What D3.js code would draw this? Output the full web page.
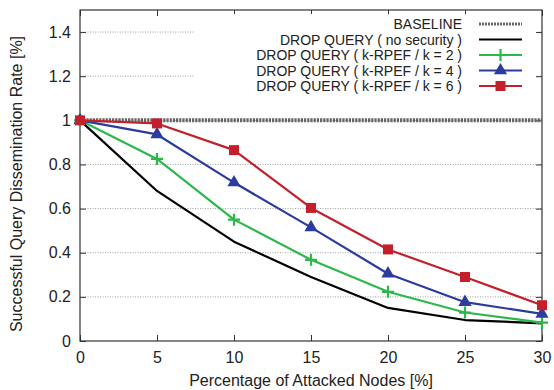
<!DOCTYPE html>
<html>
<head>
<meta charset="utf-8">
<script src="https://cdn.jsdelivr.net/npm/d3@7"></script>
<style>
  body { margin: 0; background: #fff; }
  text { font-family: "Liberation Sans", Arial, sans-serif; fill: #222; }
</style>
</head>
<body>
<svg id="chart" width="554" height="390"></svg>
<script>
// attacked nodes in %
const xVals = [0, 5, 10, 15, 20, 25, 30];
const noSecurity = [1.0, 0.68, 0.45, 0.29, 0.15, 0.095, 0.08];
const rpefK2 = [1.0, 0.825, 0.55, 0.368, 0.223, 0.129, 0.083];
const rpefK4 = [1.0, 0.936, 0.718, 0.515, 0.305, 0.176, 0.123];
const rpefK6 = [1.0, 0.986, 0.865, 0.603, 0.415, 0.29, 0.162];
const baseline = 1.0;
const xTicks = [0, 5, 10, 15, 20, 25, 30];
const yTicks = [0, 0.2, 0.4, 0.6, 0.8, 1, 1.2, 1.4];

const series = [
    { name: "DROP QUERY ( no security )", vals: noSecurity, color: "#000000", marker: null },
    { name: "DROP QUERY ( k-RPEF / k = 2 )", vals: rpefK2, color: "#2cb84a", marker: "plus" },
    { name: "DROP QUERY ( k-RPEF / k = 4 )", vals: rpefK4, color: "#2b3c9e", marker: "tri" },
    { name: "DROP QUERY ( k-RPEF / k = 6 )", vals: rpefK6, color: "#c4202c", marker: "sq" }
];

const svg = d3.select("#chart");
const pLeft = 80, pRight = 542, pTop = 10, pBottom = 341;

const x = d3.scaleLinear().domain([0, 30]).range([pLeft, pRight]);
const y = d3.scaleLinear().domain([0, 1.5]).range([pBottom, pTop]);

// grid lines
const grid = svg.append("g");
yTicks.filter(d => d > 0).forEach(t => {
    grid.append("line")
        .attr("x1", pLeft).attr("x2", pRight)
        .attr("y1", y(t)).attr("y2", y(t))
        .attr("stroke", "#888").attr("stroke-width", 0.8)
        .attr("stroke-dasharray", "1,1.5");
});

// frame
svg.append("rect")
    .attr("x", pLeft).attr("y", pTop)
    .attr("width", pRight - pLeft).attr("height", pBottom - pTop)
    .attr("fill", "none").attr("stroke", "#333").attr("stroke-width", 1.2);

// axes
const xAxis = svg.append("g")
    .attr("transform", `translate(0,${pBottom})`)
    .call(d3.axisBottom(x).tickValues(xTicks).tickSize(-6).tickPadding(11).tickFormat(d3.format("d")));
const xAxisTop = svg.append("g")
    .attr("transform", `translate(0,${pTop})`)
    .call(d3.axisTop(x).tickValues(xTicks).tickSize(-6).tickFormat(""));
const yAxis = svg.append("g")
    .attr("transform", `translate(${pLeft},0)`)
    .call(d3.axisLeft(y).tickValues(yTicks).tickSize(-6).tickPadding(9).tickFormat(d => String(+d.toFixed(1))));
const yAxisRight = svg.append("g")
    .attr("transform", `translate(${pRight},0)`)
    .call(d3.axisRight(y).tickValues(yTicks).tickSize(-6).tickFormat(""));

[xAxis, xAxisTop, yAxis, yAxisRight].forEach(a => {
    a.select(".domain").remove();
    a.selectAll(".tick line").attr("stroke", "#333");
    a.selectAll(".tick text").attr("font-size", 16).attr("fill", "#222")
        .style("font-family", "'Liberation Sans', Arial, sans-serif");
});

// axis titles
svg.append("text")
    .attr("x", 311).attr("y", 386)
    .attr("text-anchor", "middle").attr("font-size", 16)
    .text("Percentage of Attacked Nodes [%]");
svg.append("text")
    .attr("transform", "translate(22,184) rotate(-90)")
    .attr("text-anchor", "middle").attr("font-size", 16)
    .text("Successful Query Dissemination Rate [%]");

// legend background hides grid
const legX = 194, legY = 14;
svg.append("rect")
    .attr("x", legX).attr("y", legY)
    .attr("width", 342).attr("height", 82)
    .attr("fill", "#fff");

// baseline
svg.append("line")
    .attr("x1", pLeft).attr("x2", pRight)
    .attr("y1", y(baseline)).attr("y2", y(baseline))
    .attr("stroke", "#666").attr("stroke-width", 4)
    .attr("stroke-dasharray", "2.2,1");

const line = d3.line().x((d, i) => x(xVals[i])).y(d => y(d));

function drawMarker(g, type, cx, cy, color) {
    if (type === "plus") {
        g.append("path")
            .attr("d", `M${cx - 6},${cy}H${cx + 6}M${cx},${cy - 6}V${cy + 6}`)
            .attr("stroke", color).attr("stroke-width", 2.2).attr("fill", "none");
    } else if (type === "tri") {
        g.append("path")
            .attr("d", d3.symbol().type(d3.symbolTriangle).size(75)())
            .attr("transform", `translate(${cx},${cy})`)
            .attr("fill", color);
    } else if (type === "sq") {
        g.append("rect")
            .attr("x", cx - 5).attr("y", cy - 5)
            .attr("width", 10).attr("height", 10)
            .attr("fill", color);
    }
}

series.forEach(s => {
    const g = svg.append("g");
    g.append("path")
        .attr("d", line(s.vals))
        .attr("fill", "none")
        .attr("stroke", s.color)
        .attr("stroke-width", 2.2)
        .attr("stroke-linejoin", "round");
    if (s.marker) {
        s.vals.forEach((v, i) => drawMarker(g, s.marker, x(xVals[i]), y(v), s.color));
    }
});

// legend
const legend = svg.append("g");
const legendNames = ["BASELINE"].concat(series.map(s => s.name));
const textRight = 462, sampleX1 = 479, sampleX2 = 522;
legendNames.forEach((name, i) => {
    const ly = 24 + i * 15.5;
    legend.append("text")
        .attr("x", textRight).attr("y", ly + 5)
        .attr("text-anchor", "end").attr("font-size", 14)
        .text(name);
    if (i === 0) {
        legend.append("line")
            .attr("x1", sampleX1).attr("x2", sampleX2)
            .attr("y1", ly).attr("y2", ly)
            .attr("stroke", "#666").attr("stroke-width", 3)
            .attr("stroke-dasharray", "2,1");
    } else {
        const s = series[i - 1];
        legend.append("line")
            .attr("x1", sampleX1).attr("x2", sampleX2)
            .attr("y1", ly).attr("y2", ly)
            .attr("stroke", s.color).attr("stroke-width", 2.2);
        if (s.marker) drawMarker(legend, s.marker, (sampleX1 + sampleX2) / 2, ly, s.color);
    }
});
</script>
</body>
</html>
